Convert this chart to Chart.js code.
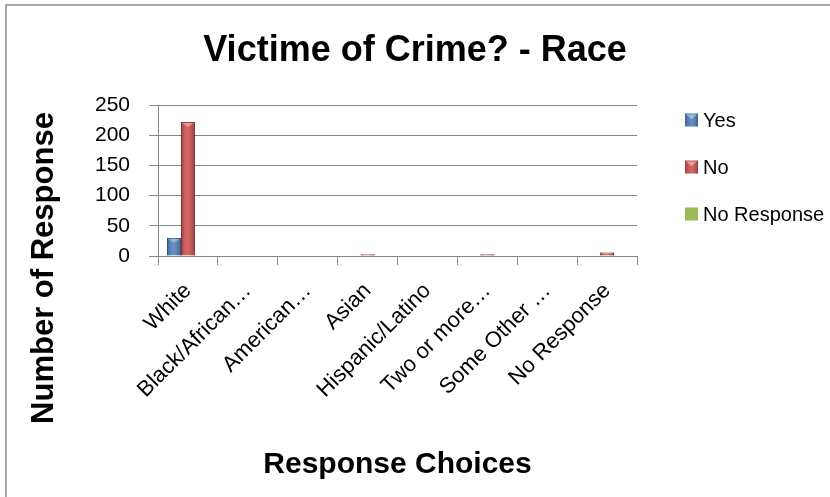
<!DOCTYPE html>
<html>
<head>
<meta charset="utf-8">
<title>Victime of Crime? - Race</title>
<script src="https://cdn.jsdelivr.net/npm/chart.js@4.4.1/dist/chart.umd.min.js"></script>
<style>
  html, body { margin: 0; padding: 0; background: #fff; }
</style>
</head>
<body>
<canvas id="chartRace" width="830" height="497"></canvas>
<script>
const categories = ['White', 'Black/African…', 'American…', 'Asian', 'Hispanic/Latino', 'Two or more…', 'Some Other …', 'No Response'];
const yesCounts = [30, 0, 0, 0, 0, 0, 0, 0];
const noCounts = [222, 0, 0, 3, 0, 3, 0, 6];
const noResponseCounts = [0, 0, 0, 0, 0, 0, 0, 0];
const yTicks = [0, 50, 100, 150, 200, 250];

const FONT = "'Liberation Sans', Arial, sans-serif";
const GRID = '#868686';

// thin grey frame on the left and top edge
const frameLines = {
    id: 'frameLines',
    beforeDraw(chart) {
        const ctx = chart.ctx;
        ctx.save();
        ctx.strokeStyle = '#8a8a8a';
        ctx.lineWidth = 1.5;
        ctx.beginPath();
        ctx.moveTo(6, chart.height);
        ctx.lineTo(6, 5);
        ctx.lineTo(chart.width, 5);
        ctx.stroke();
        ctx.restore();
    }
};

// darker edges and a light bevel on top of each bar
const barShade = {
    id: 'barShade',
    afterDatasetsDraw(chart) {
        const ctx = chart.ctx;
        chart.data.datasets.forEach((ds, i) => {
            chart.getDatasetMeta(i).data.forEach(bar => {
                const { x, y, base, width } = bar.getProps(['x', 'y', 'base', 'width'], true);
                const h = base - y;
                if (h < 1) return;
                const left = x - width / 2;
                const g = ctx.createLinearGradient(left, 0, left + width, 0);
                g.addColorStop(0, 'rgba(0,0,0,0.25)');
                g.addColorStop(0.45, 'rgba(255,255,255,0.12)');
                g.addColorStop(1, 'rgba(0,0,0,0.3)');
                ctx.save();
                ctx.fillStyle = g;
                ctx.fillRect(left, y, width, h);
                const t = Math.min(width * 0.35, h - 1);
                if (t > 2) {
                    ctx.fillStyle = 'rgba(255,255,255,0.35)';
                    ctx.beginPath();
                    ctx.moveTo(left + 1, y + 1);
                    ctx.lineTo(left + width - 1, y + 1);
                    ctx.lineTo(x, y + t);
                    ctx.closePath();
                    ctx.fill();
                }
                ctx.restore();
            });
        });
    }
};

// rotated title for the value axis, centred on the whole canvas height
const sideTitle = {
    id: 'sideTitle',
    afterDraw(chart, args, opts) {
        const ctx = chart.ctx;
        ctx.save();
        ctx.translate(opts.x, opts.y);
        ctx.rotate(-Math.PI / 2);
        ctx.font = opts.font;
        ctx.fillStyle = '#000';
        ctx.textAlign = 'center';
        ctx.textBaseline = 'middle';
        ctx.fillText(opts.text, 0, 0);
        ctx.restore();
    }
};

// legend on the right with wide row spacing
const sideLegend = {
    id: 'sideLegend',
    afterDraw(chart, args, opts) {
        const ctx = chart.ctx;
        ctx.save();
        ctx.font = opts.font;
        ctx.textBaseline = 'middle';
        ctx.textAlign = 'left';
        chart.data.datasets.forEach((ds, i) => {
            const cy = opts.top + i * opts.step;
            const bx = opts.left, by = cy - opts.box / 2;
            ctx.fillStyle = ds.backgroundColor;
            ctx.fillRect(bx, by, opts.box, opts.box);
            if (ds.borderWidth) {
                const g = ctx.createLinearGradient(bx, 0, bx + opts.box, 0);
                g.addColorStop(0, 'rgba(0,0,0,0.25)');
                g.addColorStop(0.5, 'rgba(255,255,255,0.1)');
                g.addColorStop(1, 'rgba(0,0,0,0.3)');
                ctx.fillStyle = g;
                ctx.fillRect(bx, by, opts.box, opts.box);
                ctx.fillStyle = 'rgba(255,255,255,0.4)';
                ctx.beginPath();
                ctx.moveTo(bx + 1, by + 1);
                ctx.lineTo(bx + opts.box - 1, by + 1);
                ctx.lineTo(bx + opts.box / 2, by + opts.box * 0.45);
                ctx.closePath();
                ctx.fill();
            }
            ctx.fillStyle = '#000';
            ctx.fillText(ds.label, bx + opts.box + 5, cy + 1);
        });
        ctx.restore();
    }
};

const ctx = document.getElementById('chartRace').getContext('2d');

const chartRace = new Chart(ctx, {
    type: 'bar',
    data: {
        labels: categories,
        datasets: [
            { label: 'Yes', data: yesCounts, backgroundColor: '#4F81BD', borderColor: '#3a6496', borderWidth: 1 },
            { label: 'No', data: noCounts, backgroundColor: '#D0504D', borderColor: '#943634', borderWidth: 1 },
            { label: 'No Response', data: noResponseCounts, backgroundColor: '#9BBB59', borderWidth: 0 }
        ]
    },
    options: {
        responsive: false,
        animation: false,
        devicePixelRatio: 1,
        datasets: { bar: { categoryPercentage: 0.7, barPercentage: 1 } },
        plugins: {
            legend: { display: false },
            tooltip: { enabled: false },
            title: {
                display: true,
                text: 'Victime of Crime? - Race',
                color: '#000',
                font: { family: FONT, size: 36, weight: 'bold' },
                padding: { top: 29, bottom: 33 }
            },
            sideTitle: { text: 'Number of Response', x: 44, y: 268, font: `bold 31px ${FONT}` },
            sideLegend: { left: 685, top: 120, step: 47, box: 13, font: `20px ${FONT}` }
        },
        scales: {
            x: {
                grid: { drawOnChartArea: false, color: GRID, tickLength: 9 },
                border: { color: GRID },
                ticks: {
                    color: '#000',
                    font: { family: FONT, size: 22 },
                    minRotation: 45,
                    maxRotation: 45,
                    autoSkip: false,
                    padding: 13
                },
                title: {
                    display: true,
                    text: 'Response Choices',
                    color: '#000',
                    font: { family: FONT, size: 30, weight: 'bold' },
                    padding: { top: 0, bottom: 14 }
                },
                afterFit(scale) { scale.height = 241; }
            },
            y: {
                min: 0,
                max: 250,
                afterBuildTicks(scale) { scale.ticks = yTicks.map(v => ({ value: v })); },
                grid: { color: GRID, tickLength: 9 },
                border: { color: GRID },
                ticks: { color: '#000', font: { family: FONT, size: 21 }, padding: 19 },
                afterFit(scale) { scale.width = 158; }
            },
            // empty right-hand strip that holds the legend
            legendSpace: {
                position: 'right',
                grid: { display: false },
                border: { display: false },
                ticks: { display: false },
                afterFit(scale) { scale.width = 193; }
            }
        }
    },
    plugins: [frameLines, barShade, sideTitle, sideLegend]
});
</script>
</body>
</html>
